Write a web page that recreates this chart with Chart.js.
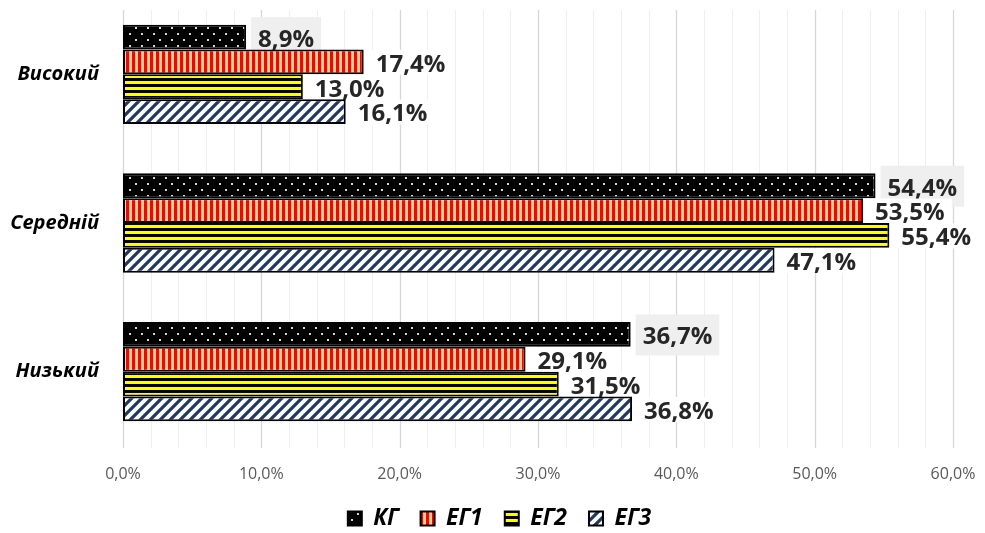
<!DOCTYPE html>
<html>
<head>
<meta charset="utf-8">
<script src="https://cdn.jsdelivr.net/npm/chart.js@4.4.0/dist/chart.umd.min.js"></script>
<style>
  html, body { margin: 0; padding: 0; background: #fff; overflow: hidden; }
  #wrap { width: 985px; height: 540px; }
</style>
</head>
<body>
<div id="wrap"><canvas id="chart"></canvas></div>
<script>
// ===== Data =====
const categories = ["Високий", "Середній", "Низький"];
const seriesNames = ["КГ", "ЕГ1", "ЕГ2", "ЕГ3"];
const kgValues = [8.9, 54.4, 36.7];
const eg1Values = [17.4, 53.5, 29.1];
const eg2Values = [13.0, 55.4, 31.5];
const eg3Values = [16.1, 47.1, 36.8];
const xMin = 0;
const xMax = 60;
const xStep = 10;

const fmt = (v) => v.toFixed(1).replace(".", ",") + "%";

// ===== Patterns =====
function makePattern(w, h, draw) {
  const c = document.createElement("canvas");
  c.width = w;
  c.height = h;
  const g = c.getContext("2d");
  draw(g, w, h);
  return g.createPattern(c, "repeat");
}

const dots = makePattern(12, 12, (g, w, h) => {
  g.fillStyle = "#000";
  g.fillRect(0, 0, w, h);
  g.fillStyle = "#d8d8d8";
  g.fillRect(3, 3, 2, 2);
  g.fillRect(9, 9, 2, 2);
});
const vStripes = makePattern(6, 6, (g, w, h) => {
  g.fillStyle = "#ffe38f";
  g.fillRect(0, 0, w, h);
  g.fillStyle = "#ff0000";
  g.fillRect(0, 0, 3, h);
});
const hStripes = makePattern(6, 6, (g, w, h) => {
  g.fillStyle = "#ffff00";
  g.fillRect(0, 0, w, h);
  g.fillStyle = "#000";
  g.fillRect(0, 0, w, 3);
});
const diag = makePattern(10, 10, (g, w, h) => {
  g.fillStyle = "#fff";
  g.fillRect(0, 0, w, h);
  g.strokeStyle = "#1f3864";
  g.lineWidth = 3.2;
  g.beginPath();
  g.moveTo(-2, h + 2); g.lineTo(w + 2, -2);
  g.moveTo(-2 - w, h + 2); g.lineTo(2, -2);
  g.moveTo(w - 2, h + 2); g.lineTo(2 * w + 2, -2);
  g.stroke();
});

// ===== Plugins =====
// gridlines (major every 10 %, minor every 2 %) + value labels, drawn under the bars
const backdrop = {
  id: "backdrop",
  beforeDatasetsDraw(chart) {
    const { ctx, scales: { x } } = chart;
    ctx.save();
    for (let v = xMin; v <= xMax; v += 2) {
      const px = Math.round(x.getPixelForValue(v)) + 0.5;
      ctx.strokeStyle = v % 10 === 0 ? "#d6d6d6" : "#efefef";
      ctx.lineWidth = v % 10 === 0 ? 1.3 : 1;
      ctx.beginPath();
      ctx.moveTo(px, 10);
      ctx.lineTo(px, 448);
      ctx.stroke();
    }

    ctx.font = "bold 24px 'Open Sans'";
    ctx.textBaseline = "middle";
    chart.data.datasets.forEach((ds, i) => {
      const meta = chart.getDatasetMeta(i);
      meta.data.forEach((bar, j) => {
        const txt = fmt(ds.data[j]);
        const tw = ctx.measureText(txt).width;
        const bx = bar.x + 5;
        if (i === 0) {
          ctx.fillStyle = "#efefef";
          ctx.fillRect(bx, bar.y - 20, tw + 14, 41);
        } else {
          ctx.fillStyle = "#fff";
          ctx.fillRect(bx, bar.y - 12, tw + 14, 25);
        }
        ctx.fillStyle = "#262626";
        ctx.fillText(txt, bar.x + 12, bar.y + 3);
      });
    });
    ctx.restore();
  },
};

// legend sits a bit right of the canvas centre in the original
const legendShift = {
  id: "legendShift",
  afterLayout(chart) {
    if (!chart.legend) return;
    chart.legend.left += 23;
    chart.legend.right += 23;
  },
};

// ===== Chart =====
const ctx = document.getElementById("chart");
new Chart(ctx, {
  type: "bar",
  data: {
    labels: categories,
    datasets: [
      { label: seriesNames[0], data: kgValues, backgroundColor: dots },
      { label: seriesNames[1], data: eg1Values, backgroundColor: vStripes },
      { label: seriesNames[2], data: eg2Values, backgroundColor: hStripes },
      { label: seriesNames[3], data: eg3Values, backgroundColor: diag },
    ].map((d) => ({
      ...d,
      borderColor: "#000",
      borderWidth: 2,
      borderSkipped: false,
      barPercentage: 1,
      categoryPercentage: 0.668,
    })),
  },
  options: {
    indexAxis: "y",
    responsive: true,
    maintainAspectRatio: false,
    animation: false,
    devicePixelRatio: 1,
    layout: { padding: { left: 0, right: 32, top: 0, bottom: 0 } },
    scales: {
      x: {
        min: xMin,
        max: xMax,
        ticks: {
          stepSize: xStep,
          callback: (v) => fmt(v),
          color: "#595959",
          font: { family: "'Open Sans'", size: 16 },
          padding: 19,
        },
        grid: { display: false, drawTicks: false },
        border: { display: false },
        afterFit: (s) => {
          s.height = 39;
          s.paddingLeft = 0;
          s.paddingRight = 0;
        },
      },
      y: {
        ticks: {
          color: "#000",
          font: { family: "'Open Sans'", size: 20, style: "italic", weight: "bold" },
          padding: 24,
        },
        grid: { display: false, drawTicks: false },
        border: { display: false },
        afterFit: (s) => {
          s.width = 123;
          s.paddingTop = 0;
          s.paddingBottom = 0;
        },
      },
    },
    plugins: {
      legend: {
        position: "bottom",
        labels: {
          boxWidth: 14,
          boxHeight: 14,
          padding: 22,
          color: "#000",
          font: { family: "'Open Sans'", size: 23, style: "italic", weight: "bold" },
        },
      },
      tooltip: { enabled: false },
    },
  },
  plugins: [backdrop, legendShift],
});
</script>
</body>
</html>
